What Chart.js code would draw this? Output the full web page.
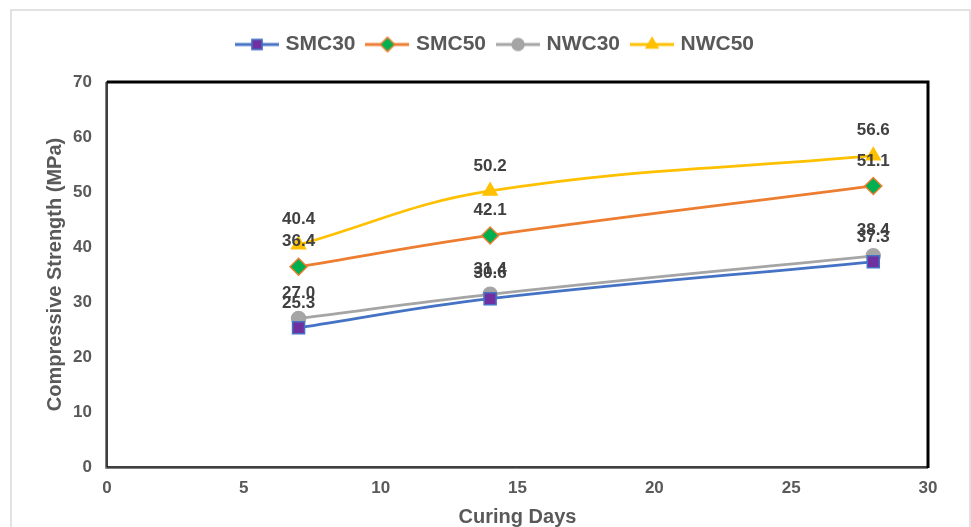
<!DOCTYPE html>
<html>
<head>
<meta charset="utf-8">
<script src="https://cdn.jsdelivr.net/npm/chart.js@4.4.1/dist/chart.umd.min.js"></script>
<style>
  html, body { margin: 0; padding: 0; background: #fff; }
  #wrap { width: 971px; height: 527px; }
</style>
</head>
<body>
<div id="wrap"><canvas id="strengthChart" width="971" height="527"></canvas></div>
<script>
// curing ages (days)
const curingDays = [7, 14, 28];

// compressive strength, MPa
const smc30 = [25.3, 30.6, 37.3];
const smc50 = [36.4, 42.1, 51.1];
const nwc30 = [27.0, 31.4, 38.4];
const nwc50 = [40.4, 50.2, 56.6];

const seriesNames = ['SMC30', 'SMC50', 'NWC30', 'NWC50'];

const textGrey = '#595959';
const fontFam = '"Liberation Sans", Arial, sans-serif';

function toPoints(vals) {
    return vals.map((v, i) => ({ x: curingDays[i], y: v }));
}

const styles = [
    { line: '#4472C4', fill: '#7030A0', point: 'rect', r: 8.5 },
    { line: '#ED7D31', fill: '#00B050', point: 'rectRot', r: 8.5 },
    { line: '#A5A5A5', fill: '#A5A5A5', point: 'circle', r: 7 },
    { line: '#FFC000', fill: '#FFC000', point: 'triangle', r: 8 }
];

// small line+marker icons for the legend
function legendIcon(s) {
    const c = document.createElement('canvas');
    c.width = 44; c.height = 18;
    const ctx = c.getContext('2d');
    ctx.strokeStyle = s.line;
    ctx.lineWidth = 3;
    ctx.beginPath();
    ctx.moveTo(0, 9); ctx.lineTo(44, 9);
    ctx.stroke();
    ctx.fillStyle = s.fill;
    ctx.strokeStyle = s.line;
    ctx.lineWidth = 1.5;
    Chart.helpers.drawPoint(ctx, { pointStyle: s.point, radius: s.r * 0.85, rotation: 0, borderWidth: 1.5 }, 22, 9);
    return c;
}

const datasets = [smc30, smc50, nwc30, nwc50].map((vals, i) => ({
    label: seriesNames[i],
    data: toPoints(vals),
    borderColor: styles[i].line,
    backgroundColor: styles[i].fill,
    pointBackgroundColor: styles[i].fill,
    pointBorderColor: styles[i].line,
    pointBorderWidth: 1.5,
    pointStyle: styles[i].point,
    pointRadius: styles[i].r,
    borderWidth: 2.75,
    tension: 0.4,
    legendIcon: legendIcon(styles[i])
}));

// extra room under the legend, and nudge it a little to the right
const legendTweak = {
    id: 'legendTweak',
    beforeLayout(chart) {
        const lg = chart.legend;
        if (!lg || lg._tweaked) return;
        lg._tweaked = true;
        const fit = lg.fit;
        lg.fit = function () {
            fit.call(this);
            this.height += 17;
        };
        const draw = lg.draw;
        lg.draw = function () {
            this.ctx.save();
            this.ctx.translate(11, 0);
            draw.call(this);
            this.ctx.restore();
        };
    }
};

// light frame around the whole chart and the black plot box
const frames = {
    id: 'frames',
    beforeDraw(chart) {
        const ctx = chart.ctx;
        ctx.save();
        ctx.fillStyle = '#fff';
        ctx.fillRect(0, 0, chart.width, chart.height);
        ctx.strokeStyle = '#d9d9d9';
        ctx.lineWidth = 1.5;
        ctx.strokeRect(11, 10, 959, 600);
        ctx.restore();
    },
    afterDraw(chart) {
        const { left, right, top, bottom } = chart.chartArea;
        const ctx = chart.ctx;
        ctx.save();
        ctx.strokeStyle = '#808080';
        ctx.lineWidth = 1;
        ctx.beginPath();
        ctx.moveTo(left - 1.5, top);
        ctx.lineTo(left - 1.5, bottom + 1.5);
        ctx.lineTo(right, bottom + 1.5);
        ctx.stroke();
        ctx.strokeStyle = '#000';
        ctx.lineWidth = 1.5;
        ctx.strokeRect(left, top, right - left, bottom - top);
        ctx.lineWidth = 3;
        ctx.beginPath();
        ctx.moveTo(left, top);
        ctx.lineTo(right, top);
        ctx.lineTo(right, bottom + 1);
        ctx.stroke();
        ctx.restore();
    }
};

// value labels above each marker
const valueLabels = {
    id: 'valueLabels',
    afterDatasetsDraw(chart) {
        const ctx = chart.ctx;
        ctx.save();
        ctx.font = 'bold 17px ' + fontFam;
        ctx.fillStyle = '#404040';
        ctx.textAlign = 'center';
        ctx.textBaseline = 'middle';
        chart.data.datasets.forEach((ds, di) => {
            const meta = chart.getDatasetMeta(di);
            meta.data.forEach((pt, j) => {
                ctx.fillText(ds.data[j].y.toFixed(1), pt.x, pt.y - 25);
            });
        });
        ctx.restore();
    }
};

new Chart(document.getElementById('strengthChart').getContext('2d'), {
    type: 'line',
    data: { datasets: datasets },
    plugins: [legendTweak, frames, valueLabels],
    options: {
        responsive: false,
        animation: false,
        layout: { padding: { top: 20, left: 43, right: 43, bottom: -2 } },
        plugins: {
            tooltip: { enabled: false },
            legend: {
                position: 'top',
                labels: {
                    usePointStyle: true,
                    pointStyleWidth: 36,
                    boxHeight: 18,
                    padding: 14,
                    color: textGrey,
                    font: { family: fontFam, size: 21, weight: 'bold' },
                    generateLabels(chart) {
                        return chart.data.datasets.map((ds, i) => ({
                            text: ds.label,
                            pointStyle: ds.legendIcon,
                            fillStyle: ds.backgroundColor,
                            strokeStyle: ds.borderColor,
                            lineWidth: 0,
                            fontColor: textGrey,
                            hidden: false,
                            datasetIndex: i
                        }));
                    }
                }
            }
        },
        scales: {
            x: {
                type: 'linear',
                min: 0,
                max: 30,
                afterFit(scale) { scale.height = 62; },
                ticks: {
                    stepSize: 5,
                    color: textGrey,
                    padding: 11,
                    font: { family: fontFam, size: 17, weight: 'bold' }
                },
                grid: { display: false, drawTicks: false },
                border: { display: false },
                title: {
                    display: true,
                    text: 'Curing Days',
                    color: textGrey,
                    padding: { top: 6, bottom: 0 },
                    font: { family: fontFam, size: 20, weight: 'bold' }
                }
            },
            y: {
                min: 0,
                max: 70,
                afterFit(scale) { scale.width = 64; },
                ticks: {
                    stepSize: 10,
                    color: textGrey,
                    padding: 15,
                    font: { family: fontFam, size: 17, weight: 'bold' }
                },
                grid: { display: false, drawTicks: false },
                border: { display: false },
                title: {
                    display: true,
                    text: 'Compressive Strength (MPa)',
                    color: textGrey,
                    padding: { top: 0, bottom: 6 },
                    font: { family: fontFam, size: 20, weight: 'bold' }
                }
            }
        }
    }
});
</script>
</body>
</html>
